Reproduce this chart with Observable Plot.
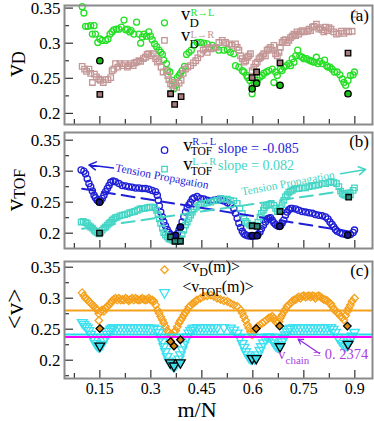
<!DOCTYPE html>
<html><head><meta charset="utf-8">
<script src="https://cdn.jsdelivr.net/npm/d3@7"></script>
<script src="https://cdn.jsdelivr.net/npm/@observablehq/plot@0.6"></script>
<style>
html,body{margin:0;padding:0;background:#fff;}
#chart svg{display:block;}
</style>
</head><body><div id="chart"></div>
<script>
// ---------- data (m/N, value) ----------
const vdRL = [[0.098,0.352],[0.103,0.343],[0.108,0.324],[0.115,0.324],[0.123,0.325],[0.128,0.313],[0.133,0.325],[0.137,0.313],[0.144,0.301],[0.150,0.306],[0.157,0.304],[0.167,0.304],[0.174,0.306],[0.180,0.313],[0.186,0.316],[0.191,0.319],[0.199,0.320],[0.206,0.320],[0.213,0.323],[0.221,0.333],[0.226,0.319],[0.231,0.320],[0.238,0.316],[0.242,0.318],[0.250,0.313],[0.258,0.330],[0.265,0.313],[0.270,0.300],[0.275,0.309],[0.280,0.313],[0.287,0.310],[0.294,0.316],[0.299,0.310],[0.304,0.305],[0.311,0.299],[0.317,0.295],[0.324,0.290],[0.329,0.287],[0.334,0.284],[0.338,0.276],[0.340,0.329],[0.346,0.271],[0.350,0.261],[0.356,0.259],[0.363,0.247],[0.368,0.235],[0.373,0.240],[0.378,0.251],[0.383,0.254],[0.387,0.257],[0.392,0.261],[0.399,0.267],[0.405,0.284],[0.412,0.287],[0.419,0.290],[0.427,0.297],[0.436,0.301],[0.446,0.301],[0.456,0.300],[0.466,0.299],[0.481,0.297],[0.490,0.294],[0.500,0.290],[0.515,0.290],[0.525,0.291],[0.534,0.287],[0.544,0.285],[0.549,0.268],[0.559,0.266],[0.569,0.261],[0.574,0.259],[0.582,0.254],[0.585,0.251],[0.591,0.247],[0.598,0.240],[0.598,0.228],[0.603,0.244],[0.613,0.247],[0.621,0.252],[0.628,0.254],[0.632,0.257],[0.640,0.259],[0.647,0.261],[0.657,0.263],[0.662,0.244],[0.667,0.259],[0.672,0.254],[0.681,0.263],[0.686,0.261],[0.691,0.266],[0.699,0.268],[0.706,0.271],[0.711,0.268],[0.716,0.278],[0.721,0.273],[0.726,0.282],[0.732,0.290],[0.738,0.282],[0.745,0.280],[0.750,0.278],[0.758,0.278],[0.765,0.276],[0.770,0.275],[0.775,0.274],[0.780,0.273],[0.787,0.280],[0.791,0.271],[0.797,0.274],[0.804,0.271],[0.811,0.276],[0.817,0.268],[0.821,0.266],[0.827,0.266],[0.833,0.263],[0.840,0.259],[0.848,0.259],[0.856,0.255],[0.863,0.249],[0.868,0.244],[0.873,0.240],[0.880,0.247],[0.887,0.254],[0.895,0.255],[0.899,0.259]];
const vdLR = [[0.098,0.267],[0.105,0.263],[0.111,0.260],[0.118,0.263],[0.123,0.257],[0.128,0.244],[0.134,0.256],[0.140,0.252],[0.147,0.249],[0.152,0.247],[0.160,0.244],[0.167,0.248],[0.174,0.248],[0.182,0.251],[0.186,0.261],[0.191,0.263],[0.196,0.271],[0.203,0.266],[0.209,0.271],[0.216,0.268],[0.223,0.271],[0.231,0.266],[0.235,0.268],[0.242,0.271],[0.248,0.268],[0.252,0.272],[0.258,0.273],[0.265,0.275],[0.270,0.274],[0.278,0.278],[0.284,0.280],[0.289,0.284],[0.294,0.285],[0.301,0.282],[0.307,0.285],[0.314,0.278],[0.319,0.273],[0.324,0.275],[0.330,0.266],[0.336,0.259],[0.340,0.304],[0.346,0.261],[0.350,0.254],[0.353,0.248],[0.358,0.242],[0.363,0.240],[0.368,0.244],[0.376,0.237],[0.383,0.243],[0.389,0.247],[0.395,0.257],[0.402,0.263],[0.409,0.266],[0.417,0.268],[0.425,0.272],[0.432,0.275],[0.438,0.279],[0.446,0.285],[0.454,0.290],[0.461,0.292],[0.466,0.287],[0.471,0.294],[0.477,0.292],[0.485,0.293],[0.493,0.294],[0.500,0.301],[0.510,0.304],[0.520,0.301],[0.530,0.299],[0.539,0.297],[0.549,0.299],[0.554,0.294],[0.559,0.290],[0.564,0.282],[0.569,0.278],[0.574,0.273],[0.579,0.275],[0.584,0.280],[0.588,0.282],[0.593,0.285],[0.598,0.261],[0.603,0.266],[0.608,0.271],[0.613,0.273],[0.618,0.278],[0.623,0.280],[0.628,0.282],[0.632,0.285],[0.637,0.282],[0.642,0.290],[0.647,0.292],[0.652,0.294],[0.657,0.290],[0.662,0.297],[0.667,0.285],[0.672,0.282],[0.677,0.287],[0.681,0.294],[0.686,0.301],[0.691,0.304],[0.696,0.305],[0.701,0.301],[0.706,0.304],[0.711,0.308],[0.716,0.310],[0.721,0.313],[0.726,0.311],[0.730,0.316],[0.735,0.313],[0.740,0.316],[0.745,0.318],[0.750,0.316],[0.760,0.317],[0.765,0.320],[0.770,0.318],[0.775,0.323],[0.780,0.324],[0.787,0.327],[0.794,0.320],[0.799,0.322],[0.804,0.319],[0.809,0.316],[0.814,0.323],[0.819,0.318],[0.824,0.322],[0.830,0.320],[0.838,0.316],[0.846,0.313],[0.853,0.314],[0.860,0.317],[0.868,0.314],[0.876,0.317],[0.882,0.316],[0.892,0.317],[0.899,0.341]];
const vdRLMarked = [[0.150,0.275],[0.598,0.235],[0.611,0.243],[0.680,0.240],[0.880,0.228]];
const vdLRMarked = [[0.150,0.227],[0.358,0.228],[0.370,0.213],[0.389,0.224],[0.598,0.251],[0.611,0.259],[0.680,0.272],[0.880,0.286]];

const vtofRL = [[0.095,0.302],[0.103,0.300],[0.108,0.296],[0.113,0.288],[0.118,0.280],[0.123,0.275],[0.128,0.268],[0.133,0.261],[0.137,0.257],[0.142,0.253],[0.147,0.251],[0.152,0.252],[0.157,0.256],[0.162,0.261],[0.167,0.267],[0.172,0.272],[0.177,0.277],[0.182,0.282],[0.189,0.284],[0.196,0.283],[0.206,0.280],[0.216,0.277],[0.226,0.276],[0.235,0.275],[0.245,0.274],[0.255,0.273],[0.265,0.273],[0.275,0.272],[0.284,0.272],[0.294,0.271],[0.304,0.269],[0.314,0.267],[0.319,0.261],[0.322,0.253],[0.325,0.244],[0.329,0.234],[0.334,0.226],[0.338,0.218],[0.343,0.212],[0.348,0.206],[0.353,0.201],[0.358,0.198],[0.363,0.196],[0.368,0.194],[0.373,0.196],[0.378,0.199],[0.383,0.205],[0.387,0.210],[0.392,0.218],[0.397,0.226],[0.402,0.234],[0.407,0.241],[0.412,0.246],[0.417,0.250],[0.422,0.255],[0.427,0.257],[0.436,0.259],[0.446,0.256],[0.456,0.255],[0.466,0.253],[0.476,0.252],[0.485,0.253],[0.495,0.254],[0.505,0.253],[0.515,0.252],[0.525,0.249],[0.534,0.246],[0.544,0.240],[0.549,0.232],[0.554,0.224],[0.559,0.216],[0.564,0.209],[0.569,0.203],[0.574,0.199],[0.579,0.197],[0.585,0.196],[0.593,0.195],[0.601,0.195],[0.608,0.196],[0.615,0.198],[0.621,0.202],[0.625,0.207],[0.631,0.213],[0.637,0.218],[0.642,0.223],[0.647,0.224],[0.652,0.225],[0.657,0.221],[0.662,0.217],[0.667,0.214],[0.672,0.212],[0.677,0.211],[0.681,0.212],[0.686,0.216],[0.691,0.221],[0.696,0.229],[0.701,0.234],[0.706,0.238],[0.711,0.240],[0.716,0.240],[0.726,0.239],[0.735,0.237],[0.745,0.235],[0.755,0.234],[0.765,0.233],[0.775,0.232],[0.784,0.230],[0.794,0.229],[0.804,0.228],[0.814,0.226],[0.821,0.223],[0.827,0.218],[0.833,0.214],[0.838,0.210],[0.843,0.206],[0.848,0.203],[0.856,0.201],[0.863,0.199],[0.873,0.198],[0.880,0.197],[0.887,0.198],[0.895,0.201],[0.899,0.205]];
const vtofLR = [[0.095,0.218],[0.101,0.219],[0.108,0.217],[0.113,0.216],[0.118,0.212],[0.123,0.210],[0.128,0.208],[0.133,0.205],[0.137,0.203],[0.142,0.201],[0.147,0.199],[0.152,0.201],[0.157,0.205],[0.162,0.208],[0.167,0.210],[0.172,0.213],[0.177,0.216],[0.182,0.218],[0.186,0.221],[0.191,0.223],[0.196,0.225],[0.201,0.226],[0.209,0.228],[0.216,0.229],[0.223,0.230],[0.231,0.231],[0.238,0.233],[0.245,0.234],[0.252,0.235],[0.260,0.237],[0.268,0.239],[0.275,0.240],[0.281,0.240],[0.289,0.241],[0.297,0.242],[0.304,0.242],[0.311,0.241],[0.317,0.237],[0.321,0.230],[0.325,0.223],[0.329,0.216],[0.334,0.208],[0.338,0.201],[0.343,0.197],[0.348,0.194],[0.353,0.191],[0.358,0.190],[0.363,0.189],[0.368,0.188],[0.373,0.188],[0.378,0.187],[0.383,0.188],[0.387,0.191],[0.392,0.198],[0.397,0.205],[0.402,0.213],[0.407,0.218],[0.412,0.224],[0.417,0.229],[0.422,0.234],[0.427,0.239],[0.434,0.242],[0.441,0.245],[0.446,0.246],[0.456,0.248],[0.466,0.249],[0.476,0.250],[0.485,0.252],[0.495,0.253],[0.505,0.256],[0.515,0.255],[0.525,0.255],[0.534,0.253],[0.544,0.252],[0.554,0.248],[0.562,0.240],[0.569,0.232],[0.574,0.225],[0.579,0.219],[0.584,0.216],[0.591,0.213],[0.598,0.212],[0.608,0.213],[0.615,0.218],[0.621,0.226],[0.625,0.232],[0.631,0.237],[0.634,0.241],[0.640,0.244],[0.647,0.246],[0.654,0.248],[0.662,0.245],[0.667,0.240],[0.672,0.235],[0.677,0.237],[0.681,0.241],[0.686,0.246],[0.691,0.253],[0.696,0.259],[0.701,0.262],[0.706,0.266],[0.711,0.268],[0.716,0.269],[0.721,0.271],[0.729,0.272],[0.735,0.272],[0.745,0.273],[0.755,0.273],[0.765,0.275],[0.775,0.276],[0.784,0.277],[0.794,0.278],[0.804,0.280],[0.814,0.280],[0.824,0.282],[0.830,0.283],[0.838,0.282],[0.846,0.280],[0.853,0.275],[0.858,0.268],[0.863,0.264],[0.868,0.262],[0.873,0.261],[0.880,0.259],[0.887,0.262],[0.895,0.269],[0.899,0.273]];
const vtofRLMarked = [[0.149,0.250],[0.373,0.196],[0.387,0.210],[0.598,0.196],[0.613,0.196],[0.679,0.211],[0.879,0.197]];
const vtofLRMarked = [[0.149,0.200],[0.358,0.194],[0.371,0.187],[0.387,0.187],[0.598,0.212],[0.613,0.211],[0.680,0.235],[0.882,0.258]];
const fitRL = [[0.098,0.2716],[0.897,0.2016]];
const fitLR = [[0.098,0.2071],[0.897,0.2705]];

const meanVD = [[0.098,0.309],[0.103,0.304],[0.108,0.300],[0.113,0.298],[0.118,0.295],[0.123,0.292],[0.128,0.289],[0.133,0.287],[0.137,0.284],[0.142,0.281],[0.147,0.275],[0.147,0.264],[0.152,0.279],[0.157,0.281],[0.162,0.279],[0.167,0.284],[0.172,0.287],[0.177,0.289],[0.182,0.292],[0.186,0.296],[0.191,0.298],[0.196,0.300],[0.201,0.297],[0.206,0.300],[0.211,0.297],[0.216,0.298],[0.221,0.297],[0.226,0.300],[0.231,0.298],[0.235,0.296],[0.240,0.298],[0.245,0.300],[0.250,0.297],[0.255,0.300],[0.260,0.298],[0.265,0.297],[0.270,0.298],[0.275,0.300],[0.280,0.298],[0.284,0.297],[0.289,0.298],[0.294,0.300],[0.299,0.297],[0.304,0.297],[0.309,0.295],[0.314,0.289],[0.319,0.281],[0.324,0.276],[0.329,0.270],[0.334,0.265],[0.338,0.260],[0.343,0.254],[0.348,0.248],[0.353,0.244],[0.358,0.241],[0.363,0.241],[0.368,0.245],[0.373,0.248],[0.378,0.254],[0.383,0.260],[0.387,0.264],[0.392,0.268],[0.397,0.273],[0.402,0.277],[0.407,0.281],[0.412,0.286],[0.417,0.288],[0.422,0.291],[0.427,0.293],[0.432,0.295],[0.436,0.297],[0.446,0.300],[0.456,0.303],[0.466,0.304],[0.476,0.305],[0.485,0.303],[0.495,0.300],[0.505,0.298],[0.515,0.296],[0.525,0.295],[0.534,0.292],[0.544,0.289],[0.554,0.287],[0.564,0.281],[0.569,0.276],[0.574,0.270],[0.579,0.264],[0.584,0.257],[0.588,0.252],[0.593,0.246],[0.598,0.241],[0.603,0.246],[0.608,0.250],[0.613,0.254],[0.621,0.257],[0.628,0.260],[0.634,0.262],[0.640,0.265],[0.647,0.268],[0.652,0.269],[0.657,0.271],[0.662,0.268],[0.667,0.262],[0.672,0.260],[0.677,0.262],[0.681,0.268],[0.686,0.273],[0.691,0.278],[0.696,0.282],[0.701,0.287],[0.706,0.289],[0.711,0.292],[0.716,0.295],[0.721,0.297],[0.726,0.298],[0.730,0.300],[0.735,0.302],[0.740,0.300],[0.745,0.303],[0.750,0.304],[0.755,0.302],[0.760,0.303],[0.765,0.304],[0.770,0.302],[0.775,0.304],[0.780,0.303],[0.784,0.300],[0.789,0.303],[0.794,0.304],[0.799,0.302],[0.804,0.300],[0.809,0.298],[0.814,0.297],[0.819,0.296],[0.824,0.293],[0.829,0.291],[0.833,0.287],[0.838,0.282],[0.843,0.280],[0.848,0.277],[0.853,0.275],[0.858,0.271],[0.863,0.269],[0.868,0.265],[0.873,0.272],[0.878,0.279],[0.882,0.284],[0.887,0.289],[0.892,0.295],[0.899,0.300]];
const meanVTOF = [[0.098,0.261],[0.103,0.258],[0.108,0.255],[0.113,0.252],[0.118,0.248],[0.123,0.242],[0.128,0.237],[0.133,0.232],[0.137,0.227],[0.142,0.224],[0.147,0.222],[0.152,0.223],[0.157,0.226],[0.162,0.232],[0.167,0.237],[0.172,0.242],[0.177,0.247],[0.182,0.250],[0.186,0.252],[0.191,0.253],[0.201,0.253],[0.211,0.253],[0.221,0.253],[0.231,0.253],[0.240,0.253],[0.250,0.253],[0.260,0.253],[0.270,0.253],[0.280,0.253],[0.289,0.253],[0.299,0.252],[0.309,0.252],[0.319,0.250],[0.324,0.245],[0.329,0.237],[0.334,0.230],[0.338,0.222],[0.343,0.214],[0.348,0.206],[0.353,0.199],[0.358,0.195],[0.363,0.192],[0.368,0.190],[0.373,0.192],[0.378,0.196],[0.383,0.202],[0.387,0.209],[0.392,0.217],[0.397,0.225],[0.402,0.232],[0.407,0.238],[0.412,0.244],[0.417,0.248],[0.422,0.251],[0.427,0.252],[0.436,0.253],[0.446,0.253],[0.456,0.253],[0.466,0.253],[0.476,0.253],[0.485,0.253],[0.495,0.253],[0.515,0.253],[0.534,0.252],[0.544,0.249],[0.554,0.244],[0.562,0.236],[0.569,0.227],[0.574,0.221],[0.579,0.214],[0.584,0.209],[0.588,0.205],[0.593,0.203],[0.598,0.203],[0.605,0.203],[0.611,0.205],[0.615,0.209],[0.621,0.216],[0.625,0.222],[0.631,0.228],[0.637,0.234],[0.642,0.237],[0.647,0.238],[0.652,0.237],[0.657,0.233],[0.662,0.228],[0.667,0.224],[0.672,0.222],[0.677,0.222],[0.681,0.225],[0.686,0.230],[0.691,0.235],[0.696,0.241],[0.701,0.246],[0.706,0.250],[0.711,0.252],[0.721,0.253],[0.730,0.253],[0.740,0.253],[0.750,0.253],[0.760,0.253],[0.770,0.253],[0.780,0.253],[0.789,0.253],[0.799,0.253],[0.809,0.253],[0.819,0.253],[0.829,0.253],[0.836,0.250],[0.843,0.245],[0.850,0.237],[0.856,0.232],[0.863,0.227],[0.868,0.224],[0.873,0.223],[0.878,0.224],[0.882,0.228],[0.887,0.234],[0.892,0.239],[0.899,0.245]];
const meanVDMarked = [[0.150,0.251],[0.358,0.230],[0.368,0.223],[0.387,0.233],[0.610,0.251],[0.679,0.255],[0.878,0.255]];
const meanVTOFMarked = [[0.150,0.223],[0.357,0.196],[0.368,0.191],[0.387,0.196],[0.598,0.203],[0.610,0.203],[0.680,0.222],[0.880,0.226]];
const hLines = [{v: 0.2802, key: "vd"}, {v: 0.2414, key: "tof"}, {v: 0.2374, key: "chain"}];
const vChainLabel = "0. 2374";

// ticks
const xTicks = [0.15, 0.3, 0.45, 0.6, 0.75, 0.9];
const xTickLabels = ["0.15", "0.3", "0.45", "0.6", "0.75", "0.9"];
const xMinor = [0.075, 0.225, 0.375, 0.525, 0.675, 0.825];
const yTicks = [0.2, 0.25, 0.3, 0.35];
const yTickLabels = ["0.2", "0.25", "0.3", "0.35"];
const yMinor = [0.175, 0.225, 0.275, 0.325];

// annotations (data coordinates)
const arrowsB = [{x1: 0.190, y1: 0.305, x2: 0.118, y2: 0.310, c: "blue"}, {x1: 0.858, y1: 0.2958, x2: 0.932, y2: 0.3027, c: "teal"}];
const tensionText = [{m: 0.333, v: 0.2915, rot: 10.8, c: "blue"}, {m: 0.7035, v: 0.2805, rot: -10.5, c: "teal"}];
const chainArrow = [{x1: 0.796, y1: 0.2108, x2: 0.733, y2: 0.2342}];

// ---------- styling ----------
const FONT = "'Liberation Serif','Times New Roman','DejaVu Serif',serif";
const C = {
  green: "#25df25", greenFill: "#1cbf1c",
  pink: "#c49696", pinkFill: "#a87c7c",
  blue: "#1e1ed6", blueFill: "#16168e",
  teal: "#45d5c4", tealFill: "#2b8a7c",
  orange: "#f6a11c", orangeFill: "#d2880f",
  cyan: "#3ce0ef", cyanLine: "#22dcee", magenta: "#ff00ff",
  purple: "#a93fdf", purpleArrow: "#8a2be2"
};
const W = 374, ML = 64, MR = 2;
const xDomain = [0.046, 0.952];

const triDown = {
  draw(ctx, size) {
    const s3 = Math.sqrt(3);
    const y = -Math.sqrt(size / (s3 * 3));
    ctx.moveTo(0, -y * 2);
    ctx.lineTo(-s3 * y, y);
    ctx.lineTo(s3 * y, y);
    ctx.closePath();
  }
};
const X = d => d[0], Y = d => d[1];

function panel({height, mt, mb, yDomain, marks, xAxis}) {
  const fw = W - ML - MR, fh = height - mt - mb;
  const inY = t => t >= yDomain[0] && t <= yDomain[1];
  return Plot.plot({
    width: W, height, marginLeft: ML, marginRight: MR, marginTop: mt, marginBottom: mb,
    x: xAxis ? {domain: xDomain} : {domain: xDomain, axis: null},
    y: {domain: yDomain},
    style: {fontFamily: FONT, fontSize: "17px", background: "white", color: "black", overflow: "visible"},
    marks: [
      Plot.tickY(yTicks.filter(inY), {stroke: "#333", strokeWidth: 1.2, insetRight: fw - 9}),
      Plot.tickY(yMinor.filter(inY), {stroke: "#333", strokeWidth: 1.2, insetRight: fw - 5}),
      Plot.tickX(xTicks, {stroke: "#333", strokeWidth: 1.2, insetTop: fh - 8}),
      Plot.tickX(xMinor, {stroke: "#333", strokeWidth: 1.2, insetTop: fh - 5}),
      Plot.axisY(yTicks.filter(inY), {tickSize: 0, tickPadding: 4, fontSize: 17, label: null,
        tickFormat: d => yTickLabels[yTicks.indexOf(d)]}),
      xAxis ? Plot.axisX(xTicks, {tickSize: 0, tickPadding: 4, fontSize: 16, label: null,
        tickFormat: d => xTickLabels[xTicks.indexOf(d)]}) : null,
      ...marks,
      Plot.frame({stroke: "#8a8a8a", strokeWidth: 2})
    ]
  });
}

// one <text> per label; parts may set an absolute x (for stacked sub/superscripts) and a baseline shift
function rich(svg, x, y, parts, {anchor = "start", rotate = 0} = {}) {
  const t = d3.select(svg).append("text")
    .attr("transform", `translate(${x},${y})` + (rotate ? ` rotate(${rotate})` : ""))
    .attr("text-anchor", anchor).attr("font-family", FONT);
  let cur = 0;
  for (const p of parts) {
    const s = p.shift || 0;
    const ts = t.append("tspan").attr("dy", s - cur).attr("font-size", p.size).attr("fill", p.fill || "black").text(p.text);
    if (p.x != null) ts.attr("x", p.x);
    cur = s;
  }
  return t;
}

// ---------- panel (a) ----------
const pa = panel({
  height: 128, mt: 5, mb: 4, yDomain: [0.1842, 0.3537],
  marks: [
    Plot.dot(vdRL, {x: X, y: Y, r: 3, stroke: C.green, strokeWidth: 1.3, fill: "none"}),
    Plot.dot(vdLR, {x: X, y: Y, r: 3.1, symbol: "square", stroke: C.pink, strokeWidth: 1.3, fill: "none"}),
    Plot.dot(vdRLMarked, {x: X, y: Y, r: 3.2, fill: C.greenFill, stroke: "black", strokeWidth: 1.3}),
    Plot.dot(vdLRMarked, {x: X, y: Y, r: 3.1, symbol: "square", fill: C.pinkFill, stroke: "black", strokeWidth: 1.3})
  ]
});

// ---------- panel (b) ----------
const legendBMarks = [{m: 0.3403, v: 0.3339}, {m: 0.3403, v: 0.3032}];
const pb = panel({
  height: 128, mt: 4, mb: 8, yDomain: [0.1753, 0.3624],
  marks: [
    Plot.dot(vtofRL, {x: X, y: Y, r: 3.1, stroke: C.blue, strokeWidth: 1.3, fill: "none"}),
    Plot.dot(vtofLR, {x: X, y: Y, r: 3.1, symbol: "square", stroke: C.teal, strokeWidth: 1.3, fill: "none"}),
    Plot.line(fitRL, {x: X, y: Y, stroke: C.blue, strokeWidth: 2, strokeDasharray: "13,7"}),
    Plot.line(fitLR, {x: X, y: Y, stroke: C.teal, strokeWidth: 2, strokeDasharray: "13,7"}),
    Plot.dot(vtofRLMarked, {x: X, y: Y, r: 3.2, fill: C.blueFill, stroke: "black", strokeWidth: 1.3}),
    Plot.dot(vtofLRMarked, {x: X, y: Y, r: 3.1, symbol: "square", fill: C.tealFill, stroke: "black", strokeWidth: 1.3}),
    Plot.arrow(arrowsB, {x1: "x1", y1: "y1", x2: "x2", y2: "y2", stroke: d => C[d.c], strokeWidth: 1.5, headLength: 8}),
    Plot.text(tensionText, {x: "m", y: "v", text: () => "Tension Propagation", rotate: d => d.rot, fill: d => C[d.c],
      fontSize: 11.5, fontFamily: FONT, textAnchor: "middle", lineAnchor: "middle"}),
    Plot.dot(legendBMarks.slice(0, 1), {x: "m", y: "v", r: 3.2, stroke: C.blue, strokeWidth: 1.3, fill: "none"}),
    Plot.dot(legendBMarks.slice(1), {x: "m", y: "v", r: 3.1, symbol: "square", stroke: C.teal, strokeWidth: 1.3, fill: "none"})
  ]
});

// ---------- panel (c) ----------
const legendCMarks = [{m: 0.3403, v: 0.3458}, {m: 0.3403, v: 0.3092}];
const lineColor = {vd: C.orange, tof: C.cyanLine, chain: C.magenta};
const pc = panel({
  height: 165, mt: 5, mb: 43, yDomain: [0.1705, 0.3592], xAxis: true,
  marks: [
    Plot.dot(meanVD, {x: X, y: Y, r: 3.4, symbol: "diamond2", stroke: C.orange, strokeWidth: 1.3, fill: "none"}),
    Plot.dot(meanVTOF, {x: X, y: Y, r: 3.6, symbol: triDown, stroke: C.cyan, strokeWidth: 1.3, fill: "none"}),
    Plot.ruleY(hLines, {y: "v", stroke: d => lineColor[d.key], strokeWidth: 2}),
    Plot.dot(meanVDMarked, {x: X, y: Y, r: 3.4, symbol: "diamond2", fill: C.orangeFill, stroke: "black", strokeWidth: 1.3}),
    Plot.dot(meanVTOFMarked, {x: X, y: Y, r: 3.6, symbol: triDown, fill: C.cyan, stroke: "black", strokeWidth: 1.3}),
    Plot.arrow(chainArrow, {x1: "x1", y1: "y1", x2: "x2", y2: "y2", stroke: C.purpleArrow, strokeWidth: 1.2, headLength: 7}),
    Plot.dot(legendCMarks.slice(0, 1), {x: "m", y: "v", r: 3.4, symbol: "diamond2", stroke: C.orange, strokeWidth: 1.3, fill: "none"}),
    Plot.dot(legendCMarks.slice(1), {x: "m", y: "v", r: 3.6, symbol: triDown, stroke: C.cyan, strokeWidth: 1.3, fill: "none"})
  ]
});

// ---------- rich text annotations ----------
function legendEntry(svg, m, v, sup, sub, supColor, o) {
  const px = svg.scale("x").apply(m), py = svg.scale("y").apply(v);
  rich(svg, px, py, [
    {text: "v", size: 18.5},
    {text: sub, size: o.subSize, x: o.subDx, shift: o.subDy},
    {text: sup, size: 10.5, fill: supColor, x: o.supDx, shift: o.supDy}
  ]);
}
// panel a
legendEntry(pa, 0.390, 0.3324, "R→L", "D", C.green, {supDx: 9.5, supDy: -3.5, subDx: 8.5, subDy: 7, subSize: 13});
legendEntry(pa, 0.390, 0.3024, "L→R", "D", C.pink, {supDx: 9.5, supDy: -3, subDx: 8.5, subDy: 7, subSize: 13});
rich(pa, W - MR - 3, 21, [{text: "(a)", size: 17}], {anchor: "end"});
rich(pa, 22.5, 64, [{text: "v", size: 25}, {text: "D", size: 18, shift: 2}], {anchor: "middle", rotate: -90});

// panel b
legendEntry(pb, 0.3967, 0.3318, "R→L", "TOF", C.blue, {supDx: 9, supDy: -5.5, subDx: 7.5, subDy: 4.5, subSize: 11.5});
legendEntry(pb, 0.3967, 0.3011, "L→R", "TOF", C.teal, {supDx: 9, supDy: -5.5, subDx: 7.5, subDy: 4.5, subSize: 11.5});
rich(pb, pb.scale("x").apply(0.4991), pb.scale("y").apply(0.3285), [{text: "slope = -0.085", size: 14, fill: C.blue}]);
rich(pb, pb.scale("x").apply(0.4991), pb.scale("y").apply(0.3011), [{text: "slope = 0.082", size: 14, fill: C.teal}]);
rich(pb, W - MR - 3, 19, [{text: "(b)", size: 17}], {anchor: "end"});
rich(pb, 22.5, 62, [{text: "v", size: 25}, {text: "TOF", size: 16, shift: 2}], {anchor: "middle", rotate: -90});

// panel c
{
  const sx = pc.scale("x"), sy = pc.scale("y");
  rich(pc, sx.apply(0.3938), sy.apply(0.3414), [{text: "<v", size: 16}, {text: "D", size: 12, shift: 4}, {text: "(m)>", size: 16}]);
  rich(pc, sx.apply(0.3938), sy.apply(0.3092), [{text: "<v", size: 16}, {text: "TOF", size: 12, shift: 4}, {text: "(m)>", size: 16}]);
  rich(pc, sx.apply(0.6756), sy.apply(0.2011), [{text: "v", size: 15, fill: C.purple}, {text: "chain", size: 11, shift: 5, fill: C.purple}, {text: " = " + vChainLabel, size: 14.5, fill: C.purple}]);
  rich(pc, W - MR - 3, 20, [{text: "(c)", size: 17}], {anchor: "end"});
  rich(pc, 22.5, 53, [{text: "<v>", size: 25}], {anchor: "middle", rotate: -90});
  rich(pc, 197, 160.5, [{text: "m/N", size: 22}], {anchor: "middle"});
}

const root = document.getElementById("chart");
root.append(pa, pb, pc);
</script>
</body></html>
